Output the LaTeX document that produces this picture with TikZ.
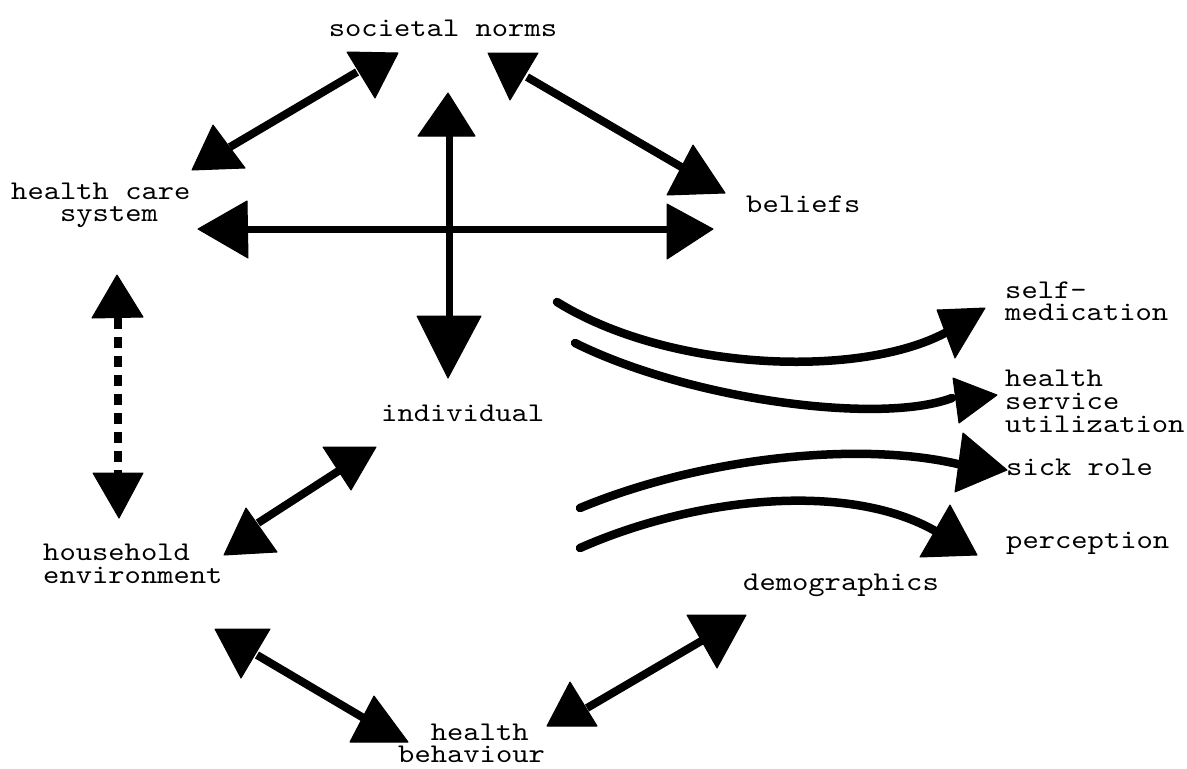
\documentclass[tikz,border=0pt]{standalone}
\usepackage{fontspec}
% wide typewriter face for all labels
\newfontfamily\typewriter{lmmono10-regular.otf}[FakeStretch=1.15]
\begin{document}
\begin{tikzpicture}[x=1pt,y=-1pt,
  lbl/.style={inner sep=0pt, anchor=base west, align=left,
    font=\fontsize{27}{23}\selectfont\typewriter},
  link/.style={line width=8pt},
  straight/.style={line width=7pt},
  flow/.style={line width=8.5pt, line cap=round},
  head/.style={fill=black, draw=black, line width=1pt, line join=round}]
\useasboundingbox (0,0) rectangle (1187,769);

% ---------- labels (placed at the baseline of their last line) ----------
\node[lbl, anchor=base] (norms) at (443,36) {societal norms};
\node[lbl] (hcs) at (11,221) {health care\\[-1pt]\phantom{hea}system};
\node[lbl] (beliefs) at (746,212) {beliefs};
\node[lbl] (indiv) at (381,421) {individual};
\node[lbl] (self) at (1005,320) {self-\\[-1pt]medication};
\node[lbl] (hsu) at (1005,432) {health\\service\\utilization};
\node[lbl] (sick) at (1006,475) {sick role};
\node[lbl] (perc) at (1006,548) {perception};
\node[lbl] (house) at (43,583) {household\\environment};
\node[lbl] (demo) at (743,590) {demographics};
\node[lbl] (hb) at (398,762) {\phantom{be}health\\[-1pt]behaviour};

% ---------- connector end points ----------
\coordinate (a1) at (357,72);   \coordinate (a2) at (230,147);
\coordinate (b1) at (527,77);   \coordinate (b2) at (683,168);
\coordinate (v1) at (449,130);  \coordinate (v2) at (449,320);
\coordinate (h1) at (244,229);  \coordinate (h2) at (670,229);
\coordinate (d1) at (118,318);  \coordinate (d2) at (118,473);
\coordinate (c1) at (340,470);  \coordinate (c2) at (258,523);
\coordinate (e1) at (257,655);  \coordinate (e2) at (367,720);
\coordinate (f1) at (587,708);  \coordinate (f2) at (703,640);
\coordinate (s1) at (557,302);  \coordinate (s2) at (945,333);
\coordinate (u1) at (575,343);  \coordinate (u2) at (952,398);
\coordinate (r1) at (580,508);  \coordinate (r2) at (962,465);
\coordinate (p1) at (580,548);  \coordinate (p2) at (945,537);

% ---------- straight connectors ----------
\draw[link] (a1) -- (a2);
\draw[link] (b1) -- (b2);
\draw[straight] (v1) -- (v2);
\draw[straight] (h1) -- (h2);
\draw[line width=7.5pt, dash pattern=on 11pt off 8pt] (d1) -- (d2);
\draw[link] (c1) -- (c2);
\draw[link] (e1) -- (e2);
\draw[link] (f1) -- (f2);

% ---------- curved flows ----------
\draw[flow] (s1) .. controls (670,372) and (860,378) .. (s2);
\draw[flow] (u1) .. controls (690,400) and (880,425) .. (u2);
\draw[flow] (r1) .. controls (700,458) and (860,440) .. (r2);
\draw[flow] (p1) .. controls (700,495) and (860,480) .. (p2);

% ---------- arrow heads ----------
\fill[head] (347,52) -- (398,53) -- (375,98) -- cycle;
\fill[head] (213,125) -- (192,170) -- (245,168) -- cycle;
\fill[head] (488,53) -- (538,53) -- (510,100) -- cycle;
\fill[head] (693,145) -- (667,195) -- (725,193) -- cycle;
\fill[head] (448,93) -- (418,136) -- (475,136) -- cycle;
\fill[head] (417,316) -- (481,316) -- (448,378) -- cycle;
\fill[head] (198,229) -- (247,201) -- (248,258) -- cycle;
\fill[head] (713,229) -- (667,204) -- (667,259) -- cycle;
\fill[head] (117,275) -- (92,318) -- (143,317) -- cycle;
\fill[head] (93,473) -- (143,473) -- (119,518) -- cycle;
\fill[head] (323,447) -- (376,447) -- (351,490) -- cycle;
\fill[head] (246,508) -- (224,555) -- (277,552) -- cycle;
\fill[head] (215,629) -- (270,629) -- (241,678) -- cycle;
\fill[head] (374,696) -- (350,742) -- (408,742) -- cycle;
\fill[head] (687,615) -- (746,615) -- (717,668) -- cycle;
\fill[head] (570,682) -- (547,726) -- (597,726) -- cycle;
\fill[head] (937,310) -- (985,308) -- (955,358) -- cycle;
\fill[head] (953,378) -- (959,423) -- (997,395) -- cycle;
\fill[head] (963,433) -- (955,492) -- (1007,470) -- cycle;
\fill[head] (950,505) -- (920,557) -- (977,555) -- cycle;
\end{tikzpicture}
\end{document}
